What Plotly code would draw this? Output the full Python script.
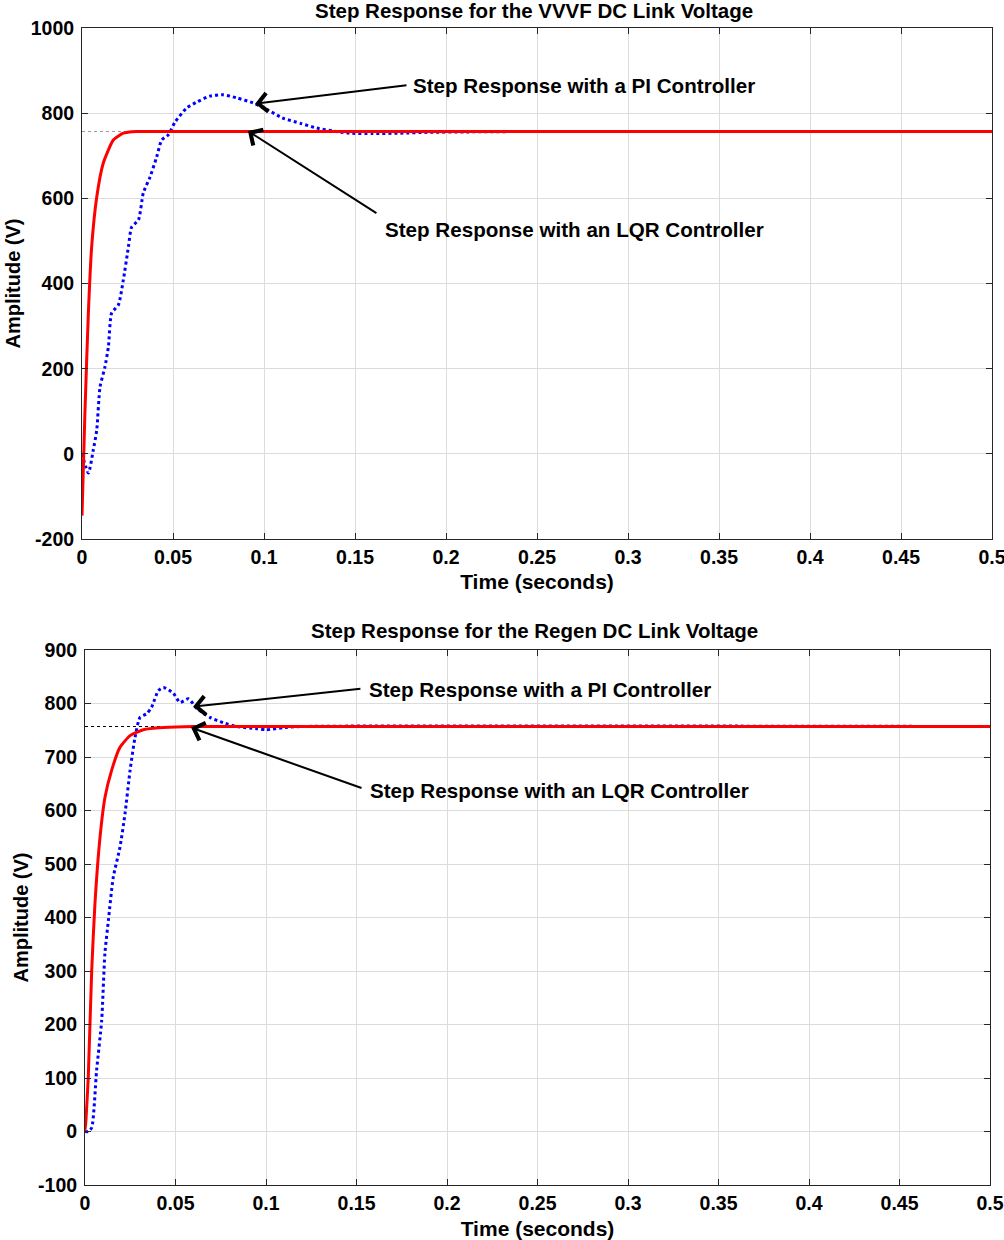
import plotly.graph_objects as go

# ---- Data ----
vvvf_lqr_t = [0, 0.0016, 0.0035, 0.0053, 0.0081, 0.0117, 0.0172, 0.0227, 0.030, 0.040, 0.5]
vvvf_lqr_v = [-145, 96, 331, 486, 603, 683, 737, 753, 757, 757, 757]

vvvf_pi_t = [0, 0.0035, 0.0062, 0.0081, 0.0099, 0.0126, 0.0145, 0.0163, 0.0200, 0.0227,
             0.0255, 0.0273, 0.031, 0.0337, 0.0374, 0.041, 0.0438, 0.0474, 0.0511, 0.0575,
             0.063, 0.0703, 0.0776, 0.085, 0.094, 0.102, 0.110, 0.120, 0.129, 0.138,
             0.147, 0.16, 0.175, 0.19, 0.211, 0.25, 0.5]
vvvf_pi_v = [0, -45, 9, 56, 157, 204, 251, 331, 350, 408,
             486, 533, 549, 613, 650, 697, 737, 749, 779, 812,
             826, 840, 843, 836, 824, 808, 789, 776, 765, 758,
             753, 752, 753, 755, 756, 757, 757]

regen_lqr_t = [0, 0, 0.0005, 0.0018, 0.0037, 0.0055, 0.0083, 0.011, 0.0147, 0.0193,
               0.0249, 0.0322, 0.0433, 0.06, 0.5]
regen_lqr_v = [40, 0, 20, 101, 301, 426, 550, 624, 675, 718,
               740, 751, 755, 757, 757]

regen_pi_t = [0, 0.0018, 0.0037, 0.0064, 0.0092, 0.011, 0.0129, 0.0156, 0.0193, 0.0221,
              0.0249, 0.0276, 0.0304, 0.0341, 0.0368, 0.0405, 0.0433, 0.0488, 0.0525, 0.0571,
              0.0617, 0.069, 0.0764, 0.0838, 0.0949, 0.1, 0.11, 0.12, 0.5]
regen_pi_v = [0, 0, 7, 114, 207, 333, 394, 475, 531, 594,
              675, 736, 774, 781, 793, 824, 830, 819, 802, 809,
              791, 774, 764, 757, 753, 751, 755, 757, 757]

steady_t = [0, 0.5]
steady_v = [757, 757]

x_ticks = [0, 0.05, 0.1, 0.15, 0.2, 0.25, 0.3, 0.35, 0.4, 0.45, 0.5]
x_labels = ["0", "0.05", "0.1", "0.15", "0.2", "0.25", "0.3", "0.35", "0.4", "0.45", "0.5"]
top_y_ticks = [-200, 0, 200, 400, 600, 800, 1000]
top_y_labels = ["-200", "0", "200", "400", "600", "800", "1000"]
bot_y_ticks = [-100, 0, 100, 200, 300, 400, 500, 600, 700, 800, 900]
bot_y_labels = ["-100", "0", "100", "200", "300", "400", "500", "600", "700", "800", "900"]

titles = ["Step Response for the VVVF DC Link Voltage", "Step Response for the Regen DC Link Voltage"]
pi_label = "Step Response with a PI Controller"
lqr_label = "Step Response with an LQR Controller"

# annotation anchor points (data coords): arrow head, arrow tail, text position
top_pi_head, top_pi_tail, top_pi_text = (0.0951, 822), (0.1791, 866), (0.1808, 866)
top_lqr_head, top_lqr_tail, top_lqr_text = (0.0912, 758), (0.1626, 563), (0.1654, 528)
bot_pi_head, bot_pi_tail, bot_pi_text = (0.0597, 794), (0.153, 828), (0.1558, 826)
bot_lqr_head, bot_lqr_tail, bot_lqr_text = (0.0586, 755), (0.1536, 641), (0.1564, 637)

FONT = "Liberation Sans, Arial, sans-serif"

fig = go.Figure()

# top plot
fig.add_trace(go.Scatter(x=steady_t, y=steady_v, mode="lines", xaxis="x", yaxis="y",
                         line=dict(color="#999999", width=1, dash="dot"), showlegend=False))
fig.add_trace(go.Scatter(x=vvvf_pi_t, y=vvvf_pi_v, mode="lines", xaxis="x", yaxis="y",
                         line=dict(color="#0000ff", width=3, dash="dot", shape="spline", smoothing=0.6),
                         showlegend=False))
fig.add_trace(go.Scatter(x=vvvf_lqr_t, y=vvvf_lqr_v, mode="lines", xaxis="x", yaxis="y",
                         line=dict(color="#ff0000", width=3, shape="spline", smoothing=0.5),
                         showlegend=False))

# bottom plot
fig.add_trace(go.Scatter(x=steady_t, y=steady_v, mode="lines", xaxis="x2", yaxis="y2",
                         line=dict(color="#000000", width=1, dash="dot"), showlegend=False))
fig.add_trace(go.Scatter(x=regen_pi_t, y=regen_pi_v, mode="lines", xaxis="x2", yaxis="y2",
                         line=dict(color="#0000ff", width=3, dash="dot", shape="spline", smoothing=0.6),
                         showlegend=False))
fig.add_trace(go.Scatter(x=regen_lqr_t, y=regen_lqr_v, mode="lines", xaxis="x2", yaxis="y2",
                         line=dict(color="#ff0000", width=3, shape="spline", smoothing=0.5),
                         showlegend=False))

TICK_SIZE = 19.5
TITLE_SIZE = 20.5
axis_common = dict(showline=True, linecolor="#262626", linewidth=1, mirror="ticks",
                   ticks="inside", ticklen=6, tickcolor="#262626", automargin=False,
                   ticklabeloverflow="allow",
                   showgrid=True, gridcolor="#dcdcdc", gridwidth=1, zeroline=False,
                   tickfont=dict(family=FONT, size=TICK_SIZE, color="black", weight="bold"))

def xtitle(standoff):
    return dict(text="Time (seconds)", font=dict(family=FONT, size=21, weight="bold"), standoff=standoff)

def ytitle():
    return dict(text="Amplitude (V)", font=dict(family=FONT, size=20, weight="bold"), standoff=4)

fig.update_layout(
    width=1004, height=1240,
    margin=dict(l=82, r=12, t=28, b=55),
    plot_bgcolor="white", paper_bgcolor="white",
    font=dict(family=FONT, color="black"),
    xaxis=dict(domain=[0, 1], anchor="y", range=[0, 0.5], tickvals=x_ticks, ticktext=x_labels,
               title=xtitle(6), ticklabelstandoff=1, **axis_common),
    yaxis=dict(domain=[0.5583, 1], anchor="x", range=[-200, 1000], tickvals=top_y_ticks,
               ticktext=top_y_labels, title=ytitle(), ticklabelstandoff=3, **axis_common),
    xaxis2=dict(domain=[0.0033, 0.9978], anchor="y2", range=[0, 0.5], tickvals=x_ticks, ticktext=x_labels,
                title=xtitle(8), ticklabelstandoff=1, **axis_common),
    yaxis2=dict(domain=[0, 0.4624], anchor="x2", range=[-100, 900], tickvals=bot_y_ticks,
                ticktext=bot_y_labels, title=ytitle(), ticklabelstandoff=3, **axis_common),
)

ann_font = dict(family=FONT, size=20.6, color="black", weight="bold")
annotations = [
    dict(text=titles[0], xref="paper", yref="paper", x=0.497, y=1.0, yshift=4, xanchor="center",
         yanchor="bottom", showarrow=False, font=dict(family=FONT, size=TITLE_SIZE, weight="bold")),
    dict(text=titles[1], xref="paper", yref="paper", x=0.497, y=0.4624, yshift=6, xanchor="center",
         yanchor="bottom", showarrow=False, font=dict(family=FONT, size=TITLE_SIZE, weight="bold")),
]

def arrow(xr, yr, head, tail):
    return dict(text="", xref=xr, yref=yr, x=head[0], y=head[1], axref=xr, ayref=yr,
                ax=tail[0], ay=tail[1], showarrow=True, arrowhead=4, arrowsize=1.8,
                arrowwidth=2, arrowcolor="black", standoff=0, startstandoff=0)

def label(xr, yr, pos, text):
    return dict(text=text, xref=xr, yref=yr, x=pos[0], y=pos[1], xanchor="left", yanchor="middle",
                showarrow=False, font=ann_font)

annotations += [
    arrow("x", "y", top_pi_head, top_pi_tail), label("x", "y", top_pi_text, pi_label),
    arrow("x", "y", top_lqr_head, top_lqr_tail), label("x", "y", top_lqr_text, lqr_label),
    arrow("x2", "y2", bot_pi_head, bot_pi_tail), label("x2", "y2", bot_pi_text, pi_label),
    arrow("x2", "y2", bot_lqr_head, bot_lqr_tail), label("x2", "y2", bot_lqr_text, lqr_label),
]
fig.update_layout(annotations=annotations)
# remove the browser's default 8px body margin so the figure fills the window exactly
fig.write_html("out.html", config={"displayModeBar": False},
               post_script="document.body.style.margin='0';")
